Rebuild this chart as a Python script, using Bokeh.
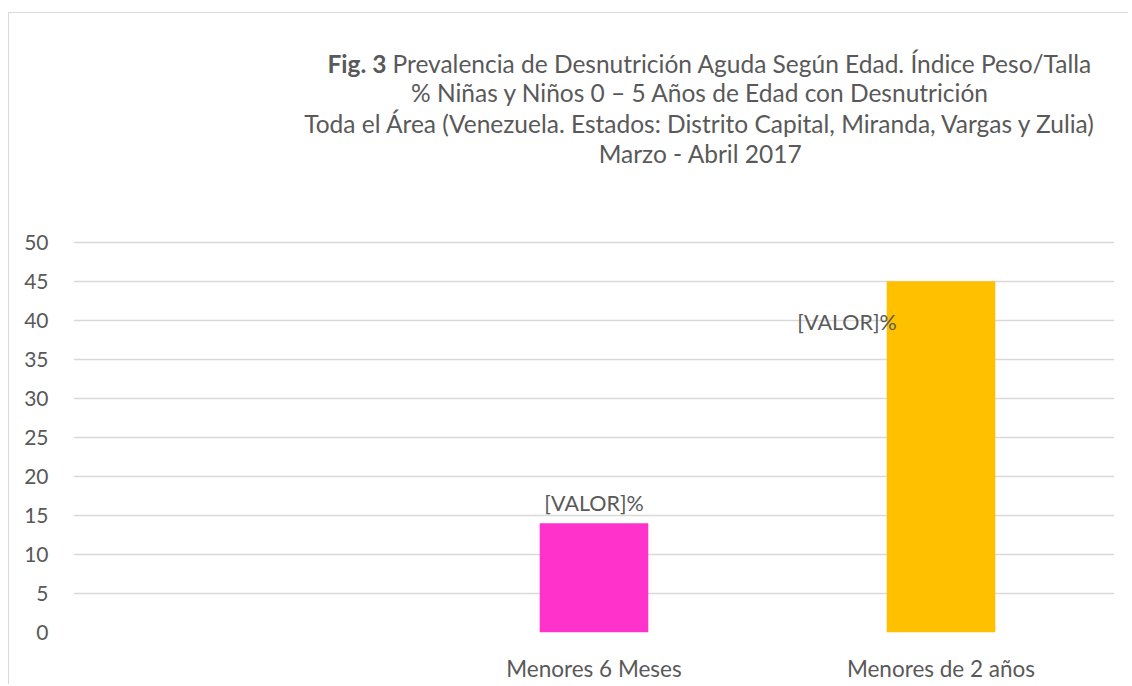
from bokeh.plotting import figure
from bokeh.models import FactorRange, Range1d, FixedTicker, Label, LabelSet, ColumnDataSource
from bokeh.core.properties import value
from bokeh.embed import file_html
from bokeh.resources import INLINE

# ---- data ----
categories = [" ", "Menores 6 Meses", "Menores de 2 años"]
bar_categories = ["Menores 6 Meses", "Menores de 2 años"]
bar_values = [14, 45]
bar_colors = ["#FF33CC", "#FFC000"]
bar_labels = ["[VALOR]%", "[VALOR]%"]
y_ticks = [0, 5, 10, 15, 20, 25, 30, 35, 40, 45, 50]
title_bold = "Fig. 3"
title_first = "Prevalencia de Desnutrición Aguda Según Edad. Índice Peso/Talla"
title_lines = [
    "% Niñas y Niños 0 – 5 Años de Edad con Desnutrición",
    "Toda el Área (Venezuela. Estados: Distrito Capital, Miranda, Vargas y Zulia)",
    "Marzo - Abril 2017",
]

FONT = "Lato"
TXT = "#595959"

src = ColumnDataSource(dict(x=bar_categories, top=bar_values, color=bar_colors))

# frame covers the title area too; gridlines/ticks only at 0..50
p = figure(
    x_range=FactorRange(factors=categories),
    y_range=Range1d(0, 79.28),
    width=1120, height=672,
    output_backend="svg", toolbar_location=None,
    min_border_left=64, min_border_right=15,
    min_border_top=0, min_border_bottom=53,
)
p.styles = {"margin-left": "8px", "margin-top": "12px",
            "border-left": "1px solid #d9d9d9", "border-top": "1px solid #d9d9d9"}

p.vbar(x="x", top="top", width=0.313, fill_color="color", line_color=None, source=src)

for ax in (p.xaxis[0], p.yaxis[0]):
    ax.axis_line_color = None
    ax.major_tick_line_color = None
    ax.minor_tick_line_color = None
    ax.major_label_text_font = FONT
    ax.major_label_text_color = TXT
p.yaxis.major_label_text_font_size = "21px"
p.xaxis.major_label_text_font_size = "22.5px"
p.yaxis.ticker = FixedTicker(ticks=y_ticks)
p.yaxis.major_label_standoff = 19
p.xaxis.major_label_standoff = 16

p.xgrid.grid_line_color = None
p.ygrid.grid_line_color = "#d9d9d9"
p.ygrid.grid_line_width = 1.5
p.outline_line_color = None

# data labels
lab_src = ColumnDataSource(dict(x=bar_categories, y=bar_values, text=bar_labels,
                                dx=[0, -94], dy=[20, -41]))
p.add_layout(LabelSet(x="x", y="y", text="text", x_offset="dx", y_offset="dy", source=lab_src,
                      text_align="center", text_baseline="middle",
                      text_font=value(FONT), text_font_size=value("21.5px"), text_color=TXT))

# title, placed in data space above the 0-50 value area
TFS = "24.5px"
title_x = 1.807
split_x = 0.902
title_y = [72.9, 69.1, 65.2, 61.4]
p.add_layout(Label(x=split_x, y=title_y[0], text=title_bold,
                   text_align="right", text_baseline="middle", text_font=FONT,
                   text_font_size=TFS, text_font_style="bold", text_color=TXT))
p.add_layout(Label(x=split_x, y=title_y[0], x_offset=6, text=title_first,
                   text_align="left", text_baseline="middle", text_font=FONT,
                   text_font_size=TFS, text_color=TXT))
for t, yy in zip(title_lines, title_y[1:]):
    p.add_layout(Label(x=title_x, y=yy, text=t,
                       text_align="center", text_baseline="middle", text_font=FONT,
                       text_font_size=TFS, text_color=TXT))

open("out.html", "w").write(file_html(p, INLINE))
